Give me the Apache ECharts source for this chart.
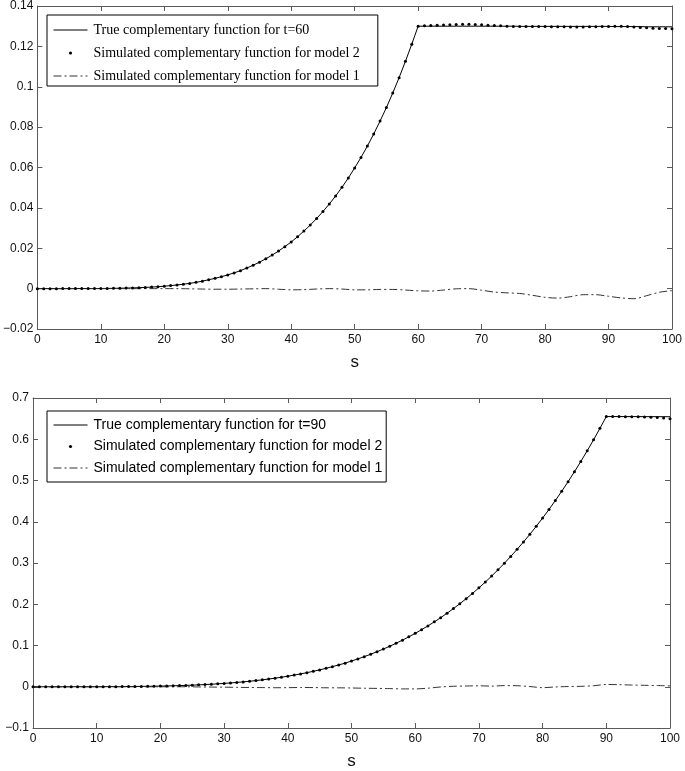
<!DOCTYPE html>
<html>
<head>
<meta charset="utf-8">
<script src="https://cdn.jsdelivr.net/npm/echarts@6/dist/echarts.min.js"></script>
<style>html,body{margin:0;padding:0;background:#fff}#c{width:685px;height:771px}</style>
</head>
<body>
<div id="c"></div>
<script>
// ---------- data ----------
const sFine = [0,1,2,3,4,5,6,7,8,9,10,11,12,13,14,15,16,17,18,19,20,21,22,23,24,25,26,27,28,29,30,31,32,33,34,35,36,37,38,39,40,41,42,43,44,45,46,47,48,49,50,51,52,53,54,55,56,57,58,59,60,61,62,63,64,65,66,67,68,69,70,71,72,73,74,75,76,77,78,79,80,81,82,83,84,85,86,87,88,89,90,91,92,93,94,95,96,97,98,99,100];
const sCoarse = [0,2,4,6,8,10,12,14,16,18,20,22,24,26,28,30,32,34,36,38,40,42,44,46,48,50,52,54,56,58,60,62,64,66,68,70,72,74,76,78,80,82,84,86,88,90,92,94,96,98,100];

// Top panel (t = 60)
const trueTop = [0,0,0,0,0.00001,0.00001,0.00002,0.00002,0.00003,0.00005,0.00006,0.0001,0.00014,0.0002,0.00026,0.00035,0.00047,0.0006,0.00077,0.00097,0.0012,0.0015,0.0018,0.0022,0.0026,0.0031,0.0037,0.0044,0.0051,0.0059,0.0068,0.0078,0.0089,0.0102,0.0116,0.0131,0.0148,0.0166,0.0186,0.0208,0.0231,0.0257,0.0285,0.0315,0.0347,0.0382,0.0419,0.0459,0.0502,0.0548,0.0598,0.0650,0.0706,0.0766,0.0830,0.0897,0.0969,0.1045,0.1126,0.1211,0.1300,0.1300,0.1300,0.1300,0.1300,0.1300,0.1300,0.1300,0.1300,0.1300,0.1300,0.1300,0.1300,0.1300,0.1300,0.1300,0.1299,0.1299,0.1299,0.1299,0.1299,0.1299,0.1299,0.1299,0.1299,0.1299,0.1299,0.1299,0.1299,0.1299,0.1299,0.1298,0.1298,0.1298,0.1298,0.1298,0.1297,0.1297,0.1297,0.1297,0.1297];
const model2Top = [0,0,0,0,0.00001,0.00001,0.00002,0.00002,0.00003,0.00005,0.00006,0.0001,0.00014,0.0002,0.00026,0.00035,0.00047,0.0006,0.00077,0.00097,0.0012,0.0015,0.0018,0.0022,0.0026,0.0031,0.0037,0.0044,0.0051,0.0059,0.0068,0.0078,0.0089,0.0102,0.0116,0.0131,0.0148,0.0166,0.0186,0.0208,0.0231,0.0257,0.0285,0.0315,0.0347,0.0382,0.0419,0.0459,0.0502,0.0548,0.0598,0.0650,0.0706,0.0766,0.0830,0.0897,0.0969,0.1045,0.1126,0.1211,0.1300,0.1302,0.1304,0.1305,0.1306,0.1307,0.1308,0.1309,0.1309,0.1308,0.1307,0.1305,0.1303,0.1302,0.1300,0.1299,0.1299,0.1298,0.1298,0.1298,0.1298,0.1297,0.1297,0.1297,0.1296,0.1296,0.1296,0.1297,0.1297,0.1298,0.1299,0.1300,0.1300,0.1298,0.1296,0.1294,0.1292,0.1290,0.1289,0.1288,0.1287];
const model1Top = [0,0,0,0,0,0,0,0,0,0,0,0,-0.0001,-0.0002,-0.0003,-0.0003,-0.0002,-0.0001,0,-0.0003,-0.0006,-0.0005,-0.0002,0,-0.0002,-0.0006,-0.0006,-0.0004,-0.0004,-0.0007,-0.0011,-0.0012,-0.0007,-0.0001,0,-0.0008,-0.0017,-0.0021,-0.0024,-0.0033,-0.0043,-0.0047,-0.0040,-0.0030,-0.0030,-0.0038,-0.0046,-0.0050,-0.0035,-0.0018,-0.0010];

// Bottom panel (t = 90)
const trueBot = [0,0,0,0,0,0,0.00001,0.00002,0.00004,0.00007,0.0001,0.00015,0.0002,0.0003,0.0004,0.0005,0.00065,0.0008,0.00105,0.0013,0.0016,0.0019,0.00234,0.0028,0.00331,0.0039,0.00456,0.0053,0.00614,0.0071,0.00809,0.0092,0.01047,0.0118,0.01334,0.015,0.01677,0.0187,0.02082,0.0231,0.02556,0.0283,0.03107,0.0342,0.03742,0.0409,0.0447,0.0486,0.053,0.0572,0.0624,0.0675,0.073,0.0788,0.0849,0.0914,0.0982,0.1054,0.113,0.121,0.1294,0.1383,0.1475,0.1573,0.1675,0.1782,0.1894,0.2012,0.2135,0.2263,0.2397,0.2537,0.2683,0.2836,0.2994,0.316,0.3331,0.351,0.3695,0.3889,0.4089,0.4298,0.4514,0.4739,0.497,0.5212,0.5461,0.572,0.5987,0.6265,0.655,0.655,0.655,0.655,0.6549,0.6549,0.6548,0.6548,0.6547,0.6547,0.6546];
const model2Bot = [0,0,0,0,0,0,0.00001,0.00002,0.00004,0.00007,0.0001,0.00015,0.0002,0.0003,0.0004,0.0005,0.00065,0.0008,0.00105,0.0013,0.0016,0.0019,0.00234,0.0028,0.00331,0.0039,0.00456,0.0053,0.00614,0.0071,0.00809,0.0092,0.01047,0.0118,0.01334,0.015,0.01677,0.0187,0.02082,0.0231,0.02556,0.0283,0.03107,0.0342,0.03742,0.0409,0.0447,0.0486,0.053,0.0572,0.0624,0.0675,0.073,0.0788,0.0849,0.0914,0.0982,0.1054,0.113,0.121,0.1294,0.1383,0.1475,0.1573,0.1675,0.1782,0.1894,0.2012,0.2135,0.2263,0.2397,0.2537,0.2683,0.2836,0.2994,0.316,0.3331,0.351,0.3695,0.3889,0.4089,0.4298,0.4514,0.4739,0.497,0.5212,0.5461,0.572,0.5987,0.6265,0.655,0.655,0.6549,0.6548,0.6546,0.6543,0.654,0.6533,0.6525,0.6513,0.6498];
const model1Bot = [0,0,0,0,0,0,0,0,0,0,0,0,0,-0.0005,-0.0008,-0.001,-0.0015,-0.0018,-0.002,-0.0024,-0.0022,-0.0018,-0.002,-0.0025,-0.0026,-0.003,-0.0036,-0.004,-0.0045,-0.0052,-0.0052,-0.0035,-0.0005,0.0012,0.0018,0.0023,0.0015,0.0028,0.0025,0.0005,-0.0022,-0.0005,0.0005,0.001,0.0025,0.0055,0.005,0.0042,0.0035,0.003,0.002];

const namesTop = ['True complementary function for t=60','Simulated complementary function for model 2','Simulated complementary function for model 1'];
const namesBot = ['True complementary function for t=90','Simulated complementary function for model 2','Simulated complementary function for model 1'];

const xTicks = {min:0, max:100, interval:10};
const yTop = {min:-0.02, max:0.14, interval:0.02};
const yBot = {min:-0.1, max:0.7, interval:0.1};

// ---------- chart ----------
const pair = (xs, ys) => xs.map((x, i) => [x, ys[i]]);
const AX = '#5a5a5a';
const labelFont = {fontFamily:'Liberation Sans', fontSize:12, color:'#111'};
const fmtY = v => { const r = parseFloat(v.toFixed(3)); return r < 0 ? '\u2212' + String(-r) : String(r); };

function xAxes(grid) {
  return [
    {type:'value', gridIndex:grid, position:'bottom', ...xTicks,
     name:'s', nameLocation:'middle', nameGap:25,
     nameTextStyle:{fontFamily:'Liberation Sans', fontSize:17, color:'#111'},
     axisLine:{show:true, onZero:false, lineStyle:{color:AX, width:1}},
     axisTick:{show:true, inside:true, length:5, lineStyle:{color:AX}},
     axisLabel:{...labelFont, margin:5},
     splitLine:{show:false}},
    {type:'value', gridIndex:grid, position:'top', ...xTicks,
     axisLine:{show:true, onZero:false, lineStyle:{color:AX, width:1}},
     axisTick:{show:true, inside:true, length:5, lineStyle:{color:AX}},
     axisLabel:{show:false}, splitLine:{show:false}}
  ];
}
function yAxes(grid, t) {
  return [
    {type:'value', gridIndex:grid, position:'left', ...t,
     axisLine:{show:true, onZero:false, lineStyle:{color:AX, width:1}},
     axisTick:{show:true, inside:true, length:5, lineStyle:{color:AX}},
     axisLabel:{...labelFont, margin:4, formatter:fmtY},
     splitLine:{show:false}},
    {type:'value', gridIndex:grid, position:'right', ...t,
     axisLine:{show:true, onZero:false, lineStyle:{color:AX, width:1}},
     axisTick:{show:true, inside:true, length:5, lineStyle:{color:AX}},
     axisLabel:{show:false}, splitLine:{show:false}}
  ];
}

const dashDot = [8,3,2,3];

function seriesFor(names, xi, yi, tru, m2, m1) {
  return [
    {name:names[0], type:'line', xAxisIndex:xi, yAxisIndex:yi, data:pair(sFine, tru),
     symbol:'none', lineStyle:{color:'#000', width:1}, itemStyle:{color:'#000'}, z:2},
    {name:names[2], type:'line', xAxisIndex:xi, yAxisIndex:yi, data:pair(sCoarse, m1),
     symbol:'none', smooth:0.3, lineStyle:{color:'#333', width:1, type:dashDot}, itemStyle:{color:'#333'}, z:2},
    {name:names[1], type:'line', xAxisIndex:xi, yAxisIndex:yi, data:pair(sFine, m2),
     symbol:'circle', symbolSize:3, showSymbol:true, showAllSymbol:true,
     lineStyle:{width:0, opacity:0}, itemStyle:{color:'#000'}, z:3}
  ];
}

function legendFor(names, left, top, font, gap, pad) {
  return {
    orient:'vertical', left:left, top:top, itemWidth:34, itemHeight:4, itemGap:gap,
    padding:pad, borderColor:'#000', borderWidth:1, backgroundColor:'#fff',
    selectedMode:false,
    textStyle:{fontFamily:font, fontSize:14, color:'#000', lineHeight:16, padding:[0,0,0,1]},
    data:[
      {name:names[0], itemStyle:{opacity:0}, lineStyle:{width:1, color:'#000'}},
      {name:names[1], lineStyle:{opacity:0}},
      {name:names[2], itemStyle:{opacity:0}, lineStyle:{width:1, color:'#333', type:dashDot}}
    ]
  };
}

const chart = echarts.init(document.getElementById('c'), null, {renderer:'canvas'});
chart.setOption({
  animation:false,
  backgroundColor:'#fff',
  grid:[
    {left:33, top:5, width:642, height:324},
    {left:33, top:398, width:637, height:337}
  ],
  xAxis:[...xAxes(0), ...xAxes(1)],
  yAxis:[...yAxes(0, yTop), ...yAxes(1, yBot)],
  legend:[
    legendFor(namesTop, 47, 15, 'Liberation Serif', 7, [7,18,2,6]),
    legendFor(namesBot, 47, 411, 'Liberation Sans', 5.5, [6,4,6,6])
  ],
  series:[
    ...seriesFor(namesTop, 0, 0, trueTop, model2Top, model1Top),
    ...seriesFor(namesBot, 2, 2, trueBot, model2Bot, model1Bot)
  ]
});
</script>
</body>
</html>
